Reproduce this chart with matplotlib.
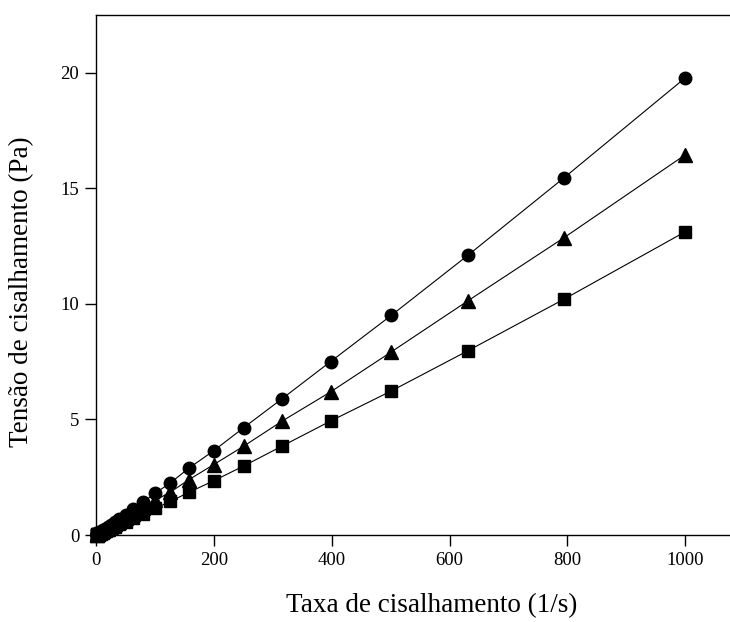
import matplotlib
matplotlib.use("Agg")
import matplotlib.pyplot as plt

# Shear rate (1/s), ten points per decade from 1 to 1000
shear_rate = [1.0, 1.26, 1.58, 2.0, 2.51, 3.16, 3.98, 5.01, 6.31, 7.94,
              10.0, 12.6, 15.8, 20.0, 25.1, 31.6, 39.8, 50.1, 63.1, 79.4,
              100, 126, 158, 200, 251, 316, 398, 501, 631, 794, 1000]

# Shear stress (Pa) for the three samples
stress_circle = [0.017, 0.021, 0.026, 0.033, 0.041, 0.052, 0.066, 0.083, 0.105, 0.13,
                 0.17, 0.21, 0.27, 0.34, 0.43, 0.55, 0.70, 0.88, 1.12, 1.42,
                 1.80, 2.25, 2.90, 3.65, 4.65, 5.90, 7.50, 9.50, 12.10, 15.45, 19.78]
stress_triangle = [0.014, 0.017, 0.022, 0.027, 0.034, 0.043, 0.055, 0.069, 0.087, 0.11,
                   0.14, 0.175, 0.22, 0.28, 0.36, 0.46, 0.58, 0.73, 0.93, 1.18,
                   1.50, 1.85, 2.40, 3.05, 3.85, 4.93, 6.19, 7.92, 10.13, 12.86, 16.45]
stress_square = [0.011, 0.014, 0.017, 0.022, 0.028, 0.035, 0.044, 0.055, 0.07, 0.088,
                 0.11, 0.14, 0.18, 0.23, 0.29, 0.36, 0.46, 0.58, 0.73, 0.92,
                 1.15, 1.45, 1.85, 2.35, 2.99, 3.85, 4.93, 6.23, 7.97, 10.20, 13.12]

x_ticks = [0, 200, 400, 600, 800, 1000]
y_ticks = [0, 5, 10, 15, 20]

plt.rcParams['font.family'] = ['Liberation Serif', 'DejaVu Serif']

fig = plt.figure(figsize=(7.30, 6.22), dpi=100)
ax = fig.add_axes([96 / 730, 87 / 622, 634 / 730, 520 / 622])

series = [
    (stress_circle, 'o', 9.0),
    (stress_triangle, '^', 9.5),
    (stress_square, 's', 8.0),
]
for values, marker, ms in series:
    ax.plot(shear_rate, values, color='black', lw=0.8, marker=marker,
            markersize=ms, markerfacecolor='black', markeredgecolor='black',
            clip_on=False, zorder=3)

ax.set_xlim(0, 1076)
ax.set_ylim(0, 22.5)
ax.set_xticks(x_ticks)
ax.set_yticks(y_ticks)

ax.spines['right'].set_visible(False)
for side in ('left', 'bottom', 'top'):
    ax.spines[side].set_linewidth(1.0)

ax.tick_params(axis='both', direction='out', length=8, width=1.0,
               labelsize=13.5, colors='black')
ax.tick_params(axis='x', pad=4)
ax.tick_params(axis='y', pad=4)

ax.set_xlabel('Taxa de cisalhamento (1/s)', fontsize=19.5)
ax.set_ylabel('Tensão de cisalhamento (Pa)', fontsize=19.5)
ax.xaxis.label.set_va('center')
ax.yaxis.label.set_va('center')
ax.xaxis.set_label_coords(0.53, -0.135)
ax.yaxis.set_label_coords(-0.117, 0.467)

fig.savefig('out.png', dpi=100)
